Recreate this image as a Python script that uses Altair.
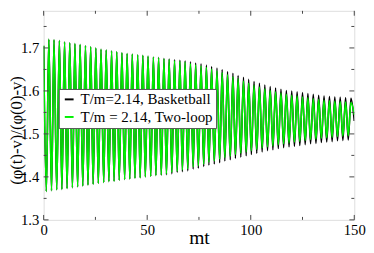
import altair as alt
import pandas as pd

# ---- data ----
peak_mt = [0, 2.5, 5.0, 7.6, 10.1, 12.6, 15.1, 17.6, 20.2, 22.7,
           25.2, 27.7, 30.2, 32.8, 35.3, 37.8, 40.3, 42.8, 45.4, 47.9,
           50.4, 53.0, 55.5, 58.1, 60.6, 63.2, 65.8, 68.3, 70.9, 73.4,
           76.0, 78.6, 81.1, 83.7, 86.2, 88.8, 91.4, 93.9, 96.5, 99.0,
           101.6, 104.2, 106.8, 109.4, 112.0, 114.6, 117.2, 119.8, 122.4, 125.0,
           127.6, 130.2, 132.8, 135.4, 138.0, 140.6, 143.2, 145.8, 148.4]
trough_mt = [1.3, 3.8, 6.3, 8.8, 11.3, 13.9, 16.4, 18.9, 21.4, 23.9,
             26.4, 29.0, 31.5, 34.0, 36.5, 39.1, 41.6, 44.1, 46.6, 49.1,
             51.7, 54.2, 56.8, 59.3, 61.9, 64.5, 67.0, 69.6, 72.2, 74.7,
             77.3, 79.8, 82.4, 85.0, 87.5, 90.1, 92.6, 95.2, 97.8, 100.3,
             102.9, 105.5, 108.1, 110.7, 113.3, 115.9, 118.5, 121.1, 123.7, 126.3,
             128.9, 131.5, 134.1, 136.7, 139.3, 141.9, 144.5, 147.1]
end_mt = 150

green_peaks = [1.705, 1.720, 1.719, 1.717, 1.714, 1.712, 1.710, 1.708, 1.705, 1.703,
               1.700, 1.697, 1.695, 1.693, 1.691, 1.689, 1.687, 1.686, 1.684, 1.683,
               1.681, 1.679, 1.677, 1.675, 1.673, 1.671, 1.669, 1.667, 1.664, 1.661,
               1.658, 1.655, 1.651, 1.647, 1.643, 1.638, 1.633, 1.628, 1.623, 1.618,
               1.613, 1.609, 1.605, 1.601, 1.598, 1.595, 1.592, 1.590, 1.588, 1.586,
               1.584, 1.582, 1.580, 1.578, 1.577, 1.576, 1.575, 1.574, 1.573]
green_troughs = [1.366, 1.368, 1.370, 1.371, 1.373, 1.375, 1.377, 1.379, 1.381, 1.383,
                 1.385, 1.387, 1.389, 1.390, 1.392, 1.394, 1.395, 1.397, 1.398, 1.400,
                 1.401, 1.403, 1.405, 1.407, 1.410, 1.413, 1.416, 1.419, 1.423, 1.426,
                 1.430, 1.434, 1.437, 1.441, 1.445, 1.448, 1.452, 1.455, 1.458, 1.461,
                 1.464, 1.467, 1.470, 1.472, 1.475, 1.477, 1.479, 1.481, 1.483, 1.485,
                 1.487, 1.488, 1.490, 1.491, 1.492, 1.494, 1.495, 1.496]
green_end = 1.545

black_peaks = [1.705, 1.720, 1.719, 1.717, 1.714, 1.712, 1.710, 1.708, 1.705, 1.703,
               1.700, 1.697, 1.695, 1.693, 1.691, 1.689, 1.687, 1.686, 1.684, 1.683,
               1.681, 1.679, 1.678, 1.676, 1.675, 1.673, 1.672, 1.670, 1.668, 1.665,
               1.663, 1.660, 1.657, 1.653, 1.650, 1.645, 1.641, 1.636, 1.632, 1.627,
               1.622, 1.618, 1.614, 1.610, 1.607, 1.604, 1.601, 1.600, 1.598, 1.596,
               1.594, 1.592, 1.590, 1.588, 1.587, 1.586, 1.585, 1.584, 1.583]
black_troughs = [1.366, 1.368, 1.370, 1.371, 1.373, 1.375, 1.377, 1.379, 1.381, 1.383,
                 1.385, 1.387, 1.389, 1.390, 1.392, 1.394, 1.395, 1.397, 1.398, 1.400,
                 1.401, 1.403, 1.404, 1.405, 1.407, 1.410, 1.412, 1.414, 1.418, 1.420,
                 1.424, 1.427, 1.430, 1.433, 1.437, 1.440, 1.443, 1.446, 1.449, 1.452,
                 1.455, 1.458, 1.461, 1.463, 1.466, 1.468, 1.470, 1.471, 1.473, 1.475,
                 1.477, 1.478, 1.480, 1.481, 1.482, 1.484, 1.485, 1.486]
black_end = 1.530

label_black = "T/m=2.14, Basketball"
label_green = "T/m = 2.14, Two-loop"

x_major = [0, 50, 100, 150]
x_minor = [25, 75, 125]
y_major = [1.3, 1.4, 1.5, 1.6, 1.7]
y_minor = [1.35, 1.45, 1.55, 1.65, 1.75]

# ---- layout ----
W, H = 318, 214
FONT = "Liberation Serif"
y_top = 1.3 + H / 440.0


def series(peaks, troughs, end, label):
    rows = list(zip(peak_mt, peaks)) + list(zip(trough_mt, troughs)) + [(end_mt, end)]
    df = pd.DataFrame(rows, columns=["mt", "val"]).sort_values("mt").reset_index(drop=True)
    df["series"] = label
    return df


df_black = series(black_peaks, black_troughs, black_end, label_black)
df_green = series(green_peaks, green_troughs, green_end, label_green)

xscale = alt.Scale(domain=[0, 150], nice=False, zero=False)
yscale = alt.Scale(domain=[1.3, y_top], nice=False, zero=False)
cscale = alt.Scale(domain=[label_black, label_green], range=["#000000", "#00f000"])

legend = alt.Legend(
    title=None, orient="none", legendX=15.5, legendY=80,
    fillColor="white", strokeColor="#555", padding=3,
    symbolType="stroke", symbolSize=81, symbolStrokeWidth=2,
    labelFont=FONT, labelFontSize=15.3, labelColor="black",
    labelOffset=4, rowPadding=2,
)

x_axis = alt.Axis(values=x_major, format="d", ticks=False, domain=False, grid=False,
                  labelFont=FONT, labelFontSize=15, labelColor="black", labelPadding=3,
                  labelFlush=False, labelOverlap=False,
                  title="mt", titleFont=FONT, titleFontSize=20, titleFontWeight="normal",
                  titleColor="black", titleBaseline="alphabetic", titleY=24)
y_axis = alt.Axis(values=y_major, format=".1f", ticks=False, domain=False, grid=False,
                  labelFont=FONT, labelFontSize=15, labelColor="black", labelPadding=5,
                  labelFlush=False, labelOverlap=False,
                  title="(φ(t)-v)/(φ(0)-v)", titleFont=FONT, titleFontSize=17,
                  titleFontWeight="normal", titleColor="black", titleAngle=270,
                  titleAlign="center", titleBaseline="middle", titleX=-27.5, titleY=122)


def line(df):
    return alt.Chart(df).mark_line(strokeWidth=1.6, interpolate="monotone", clip=True).encode(
        x=alt.X("mt:Q", scale=xscale, axis=x_axis),
        y=alt.Y("val:Q", scale=yscale, axis=y_axis),
        color=alt.Color("series:N", scale=cscale, legend=legend),
        order="mt:Q",
    )


def xticks(vals, length):
    d = pd.DataFrame({"mt": vals})
    bot = alt.Chart(d).mark_rule(color="#444", strokeWidth=1).encode(
        x=alt.X("mt:Q", scale=xscale, axis=x_axis), y=alt.value(H), y2=alt.value(H - length))
    top = alt.Chart(d).mark_rule(color="#444", strokeWidth=1).encode(
        x=alt.X("mt:Q", scale=xscale, axis=x_axis), y=alt.value(0), y2=alt.value(length))
    return [bot, top]


def yticks(vals, length):
    d = pd.DataFrame({"val": vals})
    left = alt.Chart(d).mark_rule(color="#444", strokeWidth=1).encode(
        y=alt.Y("val:Q", scale=yscale, axis=y_axis), x=alt.value(0), x2=alt.value(length))
    right = alt.Chart(d).mark_rule(color="#444", strokeWidth=1).encode(
        y=alt.Y("val:Q", scale=yscale, axis=y_axis), x=alt.value(W), x2=alt.value(W - length))
    return [left, right]


layers = [line(df_black), line(df_green)]
layers += xticks(x_major, 5) + xticks(x_minor, 3) + yticks(y_major, 5) + yticks(y_minor, 3)

chart = alt.layer(*layers).properties(
    width=W, height=H,
    autosize=alt.AutoSizeParams(type="none"),
    padding={"left": 36.5, "top": 0, "right": 12, "bottom": 30},
).configure_view(stroke="#777", strokeWidth=1.5).configure(background="white")

chart.save("out.html", embed_options={"renderer": "svg", "actions": False})
